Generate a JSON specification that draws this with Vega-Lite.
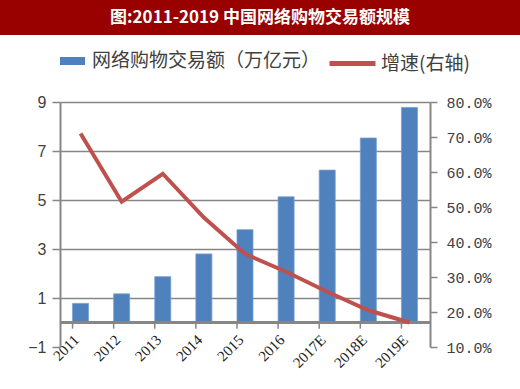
{
  "$schema": "https://vega.github.io/schema/vega-lite/v6.json",
  "padding": 0,
  "background": "white",
  "spacing": 67,
  "bounds": "flush",
  "config": {"view": {"stroke": null}},
  "resolve": {"scale": {"fill": "independent", "stroke": "independent"}, "legend": {"fill": "independent", "stroke": "independent"}},
  "vconcat": [
    {
      "width": 520,
      "height": 35,
      "view": {"fill": "#990000", "stroke": null},
      "data": {"values": [{"t": "图:2011-2019 中国网络购物交易额规模"}]},
      "mark": {"type": "text", "color": "white", "font": "Noto Sans CJK SC", "fontSize": 17, "fontWeight": "bold", "baseline": "middle", "align": "center"},
      "encoding": {"text": {"field": "t", "type": "nominal"}}
    },
    {
      "bounds": "flush",
      "spacing": 59,
      "hconcat": [
        {
          "width": 1,
          "height": 245,
          "data": {"values": []},
          "mark": "point"
        },
        {
          "width": 370,
          "height": 245,
          "data": {
            "values": [
              {"year": "2011", "amount": 0.78, "growth": 0.71},
              {"year": "2012", "amount": 1.17, "growth": 0.515},
              {"year": "2013", "amount": 1.87, "growth": 0.595},
              {"year": "2014", "amount": 2.8, "growth": 0.47},
              {"year": "2015", "amount": 3.79, "growth": 0.366},
              {"year": "2016", "amount": 5.13, "growth": 0.315},
              {"year": "2017E", "amount": 6.22, "growth": 0.258},
              {"year": "2018E", "amount": 7.53, "growth": 0.205},
              {"year": "2019E", "amount": 8.78, "growth": 0.17}
            ]
          },
          "layer": [
            {
              "layer": [
                {
                  "mark": {"type": "bar", "stroke": "#7a9fd0", "strokeWidth": 0.8},
                  "encoding": {
                    "x": {
                      "field": "year", "type": "ordinal", "sort": null,
                      "scale": {"paddingInner": 0.61, "paddingOuter": 0.305},
                      "axis": {
                        "orient": "bottom", "domain": false, "ticks": false,
                        "labelAngle": -45, "labelAlign": "right", "labelBaseline": "middle",
                        "labelFont": "Liberation Serif", "labelFontSize": 15, "labelColor": "#222222",
                        "labelPadding": -10, "labelOffset": -4, "title": null, "grid": false
                      }
                    },
                    "y": {
                      "field": "amount", "type": "quantitative",
                      "scale": {"domain": [-1, 9], "nice": false},
                      "axis": {
                        "orient": "left", "values": [-1, 1, 3, 5, 7, 9], "format": "d",
                        "grid": true, "gridColor": "#868686", "gridWidth": 1.5,
                        "gridOpacity": {"condition": {"test": "datum.value === -1", "value": 0}, "value": 1},
                        "domainColor": "#868686", "domainWidth": 2, "tickColor": "#868686",
                        "tickWidth": 1.5, "tickSize": 8, "labelFont": "Liberation Sans",
                        "labelFontSize": 16, "labelColor": "#404040", "labelPadding": 6, "title": null
                      }
                    },
                    "fill": {
                      "datum": "网络购物交易额（万亿元）", "type": "nominal",
                      "scale": {"range": ["#4F81BD"]},
                      "legend": {
                        "orient": "none", "legendX": 60, "legendY": -53.5,
                        "title": null, "labelFont": "Noto Sans CJK SC", "labelFontSize": 19,
                        "labelColor": "#404040", "symbolType": "M-1,-0.32H1V0.32H-1Z",
                        "symbolSize": 625, "symbolStrokeWidth": 0, "symbolOpacity": 1,
                        "labelOffset": 7, "labelLimit": 400
                      }
                    }
                  }
                },
                {
                  "mark": {"type": "rule", "color": "#868686", "strokeWidth": 2},
                  "encoding": {"y": {"datum": 0, "type": "quantitative"}}
                },
                {
                  "mark": {"type": "rule", "color": "#868686", "strokeWidth": 1.5},
                  "encoding": {
                    "x": {"field": "year", "type": "ordinal", "sort": null, "bandPosition": 0},
                    "y": {"datum": 0, "type": "quantitative"},
                    "y2": {"datum": -0.25}
                  }
                }
              ]
            },
            {
              "mark": {"type": "line", "strokeWidth": 4},
              "encoding": {
                "x": {"field": "year", "type": "ordinal", "sort": null},
                "y": {
                  "field": "growth", "type": "quantitative",
                  "scale": {"domain": [0.1, 0.8], "nice": false, "zero": false},
                  "axis": {
                    "orient": "right", "values": [0.1, 0.2, 0.3, 0.4, 0.5, 0.6, 0.7, 0.8],
                    "format": ".1%", "grid": false, "domainColor": "#868686", "domainWidth": 2,
                    "tickColor": "#868686", "tickSize": 7, "tickWidth": 1.5,
                    "labelFont": "Liberation Mono", "labelFontSize": 15, "labelColor": "#404040",
                    "labelPadding": 9, "title": null
                  }
                },
                "stroke": {
                  "datum": "增速(右轴)", "type": "nominal",
                  "scale": {"range": ["#C0504D"]},
                  "legend": {
                    "orient": "none", "legendX": 327, "legendY": -64,
                    "title": null, "labelFont": "Noto Sans CJK SC", "labelFontSize": 19,
                    "labelColor": "#404040", "symbolType": "stroke", "symbolSize": 2116,
                    "symbolStrokeWidth": 5, "labelOffset": 3, "labelLimit": 400
                  }
                }
              }
            }
          ],
          "resolve": {"scale": {"y": "independent"}}
        }
      ]
    }
  ]
}
